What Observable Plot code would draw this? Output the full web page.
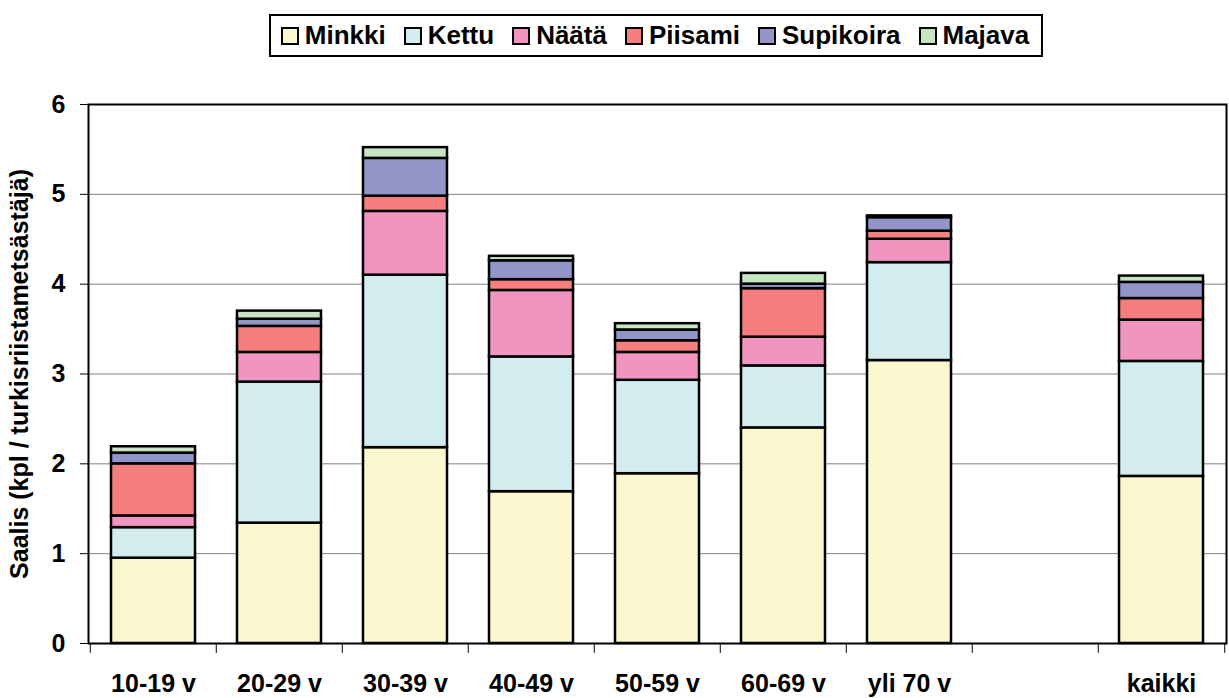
<!DOCTYPE html>
<html>
<head>
<meta charset="utf-8">
<script src="https://cdn.jsdelivr.net/npm/d3@7"></script>
<script src="https://cdn.jsdelivr.net/npm/@observablehq/plot@0.6"></script>
<style>
  html, body { margin: 0; padding: 0; background: #fff; }
  body { width: 1229px; height: 698px; overflow: hidden; font-family: "Liberation Sans", Arial, sans-serif; }
  #legend-wrap { height: 70px; display: flex; justify-content: center; align-items: flex-start; }
  #legend { margin-top: 14px; margin-left: 83px; display: inline-flex; align-items: center; border: 2px solid #000; height: 43px; padding: 0 12px 0 10px; box-sizing: border-box; font-weight: bold; font-size: 26px; }
  .item { display: inline-flex; align-items: center; margin-right: 18px; }
  .item:last-child { margin-right: 0; }
  .sw { width: 14px; height: 14px; border: 2px solid #000; margin-right: 6px; }
</style>
</head>
<body>
<div id="legend-wrap"><div id="legend"></div></div>
<div id="chart"></div>
<script>
const categories = ["10-19 v", "20-29 v", "30-39 v", "40-49 v", "50-59 v", "60-69 v", "yli 70 v", "", "kaikki"];
const species = ["Minkki", "Kettu", "Näätä", "Piisami", "Supikoira", "Majava"];
const colors = ["#faf6ce", "#d2ecf0", "#f094c0", "#f47f7e", "#9394c8", "#c8e5c3"];
const yTicks = [0, 1, 2, 3, 4, 5, 6];

// values per category (empty slot has none)
const minkki    = [0.95, 1.34, 2.18, 1.69, 1.89, 2.40, 3.15, null, 1.86];
const kettu     = [0.34, 1.57, 1.92, 1.50, 1.04, 0.69, 1.09, null, 1.28];
const naata     = [0.13, 0.33, 0.71, 0.74, 0.31, 0.32, 0.26, null, 0.46];
const piisami   = [0.58, 0.29, 0.17, 0.12, 0.13, 0.54, 0.09, null, 0.24];
const supikoira = [0.12, 0.08, 0.42, 0.21, 0.12, 0.05, 0.15, null, 0.18];
const majava    = [0.07, 0.09, 0.12, 0.05, 0.07, 0.12, 0.02, null, 0.07];

const series = [minkki, kettu, naata, piisami, supikoira, majava];
const data = [];
species.forEach((s, si) => {
  categories.forEach((c, ci) => {
    const v = series[si][ci];
    if (v != null) data.push({category: c, species: s, value: v});
  });
});

// legend
const legend = document.getElementById("legend");
species.forEach((s, i) => {
  const it = document.createElement("span");
  it.className = "item";
  it.innerHTML = `<span class="sw" style="background:${colors[i]}"></span><span>${s}</span>`;
  legend.appendChild(it);
});

const W = 1229, H = 628, mL = 88, mR = 3, mT = 34, mB = 55;
const step = (W - mL - mR) / categories.length;
const font = "Liberation Sans, Arial, sans-serif";

const chart = Plot.plot({
  width: W, height: H,
  marginLeft: mL, marginRight: mR, marginTop: mT, marginBottom: mB,
  style: {fontFamily: font, fontWeight: "bold", fontSize: "25px", color: "#000", background: "#fff", overflow: "visible"},
  x: {domain: categories, paddingInner: 0.33, paddingOuter: 0.165},
  y: {domain: [0, 6]},
  color: {domain: species, range: colors},
  marks: [
    Plot.ruleY(yTicks.slice(1, -1), {stroke: "#808080", strokeWidth: 1}),
    Plot.barY(data, {x: "category", y: "value", fill: "species", stroke: "#000", strokeWidth: 2.5}),
    Plot.ruleX(categories, {x: d => d, dx: -step / 2, y1: 0, y2: -0.11, stroke: "#000", strokeWidth: 1}),
    Plot.ruleX([categories[categories.length - 1]], {x: d => d, dx: step / 2, y1: 0, y2: -0.11, stroke: "#000", strokeWidth: 1}),
    Plot.axisX({tickSize: 0, tickPadding: 31, label: null, fontSize: 25, fontWeight: "bold"}),
    Plot.axisY({ticks: yTicks, tickFormat: d3.format("d"), tickSize: 8, tickPadding: 15, fontSize: 25, fontWeight: "bold",
      label: "Saalis (kpl / turkisriistametsästäjä)", labelAnchor: "center", labelArrow: "none", labelOffset: 78}),
    Plot.frame({stroke: "#000", strokeWidth: 2})
  ]
});
document.getElementById("chart").appendChild(chart);
</script>
</body>
</html>
